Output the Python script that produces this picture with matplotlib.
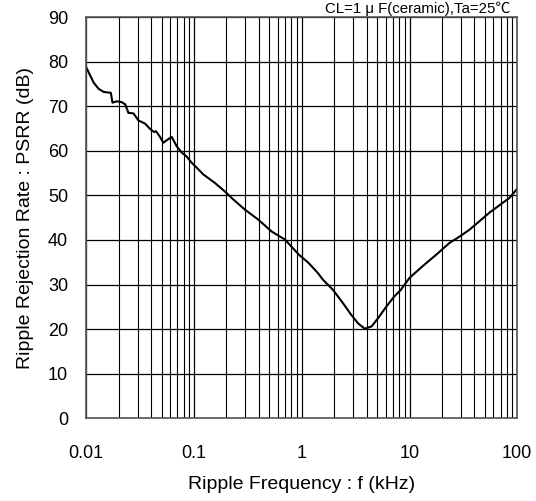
import numpy as np
import matplotlib
matplotlib.use("Agg")
import matplotlib.pyplot as plt
from matplotlib.ticker import LogLocator, NullFormatter, FixedLocator, FixedFormatter

plt.rcParams['font.family'] = ['Liberation Sans', 'Noto Sans CJK JP', 'DejaVu Sans']
plt.rcParams['axes.unicode_minus'] = False

# PSRR curve
freq_khz = [0.01, 0.0117, 0.013, 0.0145, 0.0169, 0.0175, 0.0192, 0.0214, 0.023,
            0.0246, 0.0274, 0.0305, 0.0351, 0.0391, 0.0426, 0.0444, 0.0484,
            0.0519, 0.0559, 0.0621, 0.0691, 0.077, 0.0855, 0.0952, 0.106,
            0.122, 0.156, 0.193, 0.231, 0.297, 0.393, 0.525, 0.698, 0.94,
            1.14, 1.41, 1.57, 1.95, 2.42, 2.88, 3.33, 3.84, 4.44, 5.12, 6.11,
            7.2, 8.3, 10.0, 13.2, 17.7, 23.4, 29.3, 36.0, 44.6, 55.0, 73.0,
            84.4, 100.0]
psrr_db = [78.7, 75.3, 73.9, 73.2, 73.0, 70.8, 71.1, 70.9, 70.4,
           68.5, 68.4, 66.8, 66.1, 64.9, 64.2, 64.4, 63.1,
           61.8, 62.4, 63.1, 61.0, 59.6, 58.7, 57.3, 56.2,
           54.7, 52.8, 50.9, 49.1, 46.8, 44.6, 41.9, 40.1, 36.7,
           35.0, 32.6, 31.1, 28.8, 25.8, 23.2, 21.3, 20.1, 20.6, 22.5, 25.1,
           27.3, 28.8, 31.5, 34.1, 36.7, 39.3, 40.8, 42.3, 44.2, 46.1, 48.3,
           49.4, 51.5]

x_ticks = [0.01, 0.1, 1, 10, 100]
x_labels = ["0.01", "0.1", "1", "10", "100"]
y_ticks = list(range(0, 91, 10))

fig = plt.figure(figsize=(5.36, 5.01), dpi=100)
ax = fig.add_axes([0.161, 0.165, 0.804, 0.801])

ax.plot(freq_khz, psrr_db, color='black', linewidth=1.5)

ax.set_xscale('log')
ax.set_xlim(0.01, 100)
ax.set_ylim(0, 90)
ax.xaxis.set_major_locator(FixedLocator(x_ticks))
ax.xaxis.set_major_formatter(FixedFormatter(x_labels))
ax.xaxis.set_minor_locator(LogLocator(base=10, subs=np.arange(2, 10)))
ax.xaxis.set_minor_formatter(NullFormatter())
ax.set_yticks(y_ticks)

ax.grid(True, which='major', color='black', linewidth=0.9)
ax.grid(True, which='minor', axis='x', color='black', linewidth=0.8)
ax.tick_params(which='both', length=0, labelsize=13, colors='black')
ax.tick_params(axis='x', pad=19)
ax.tick_params(axis='y', pad=13)
for s in ax.spines.values():
    s.set_color('#555555')
    s.set_linewidth(1.2)

ax.set_xlabel("Ripple Frequency : f (kHz)", fontsize=14, labelpad=10)
ax.set_ylabel("Ripple Rejection Rate : PSRR (dB)", fontsize=14, labelpad=10)
ax.text(0.985, 1.003, "CL=1 μ F(ceramic),Ta=25℃", transform=ax.transAxes,
        ha='right', va='bottom', fontsize=10.8)

fig.savefig("out.png", dpi=100)
